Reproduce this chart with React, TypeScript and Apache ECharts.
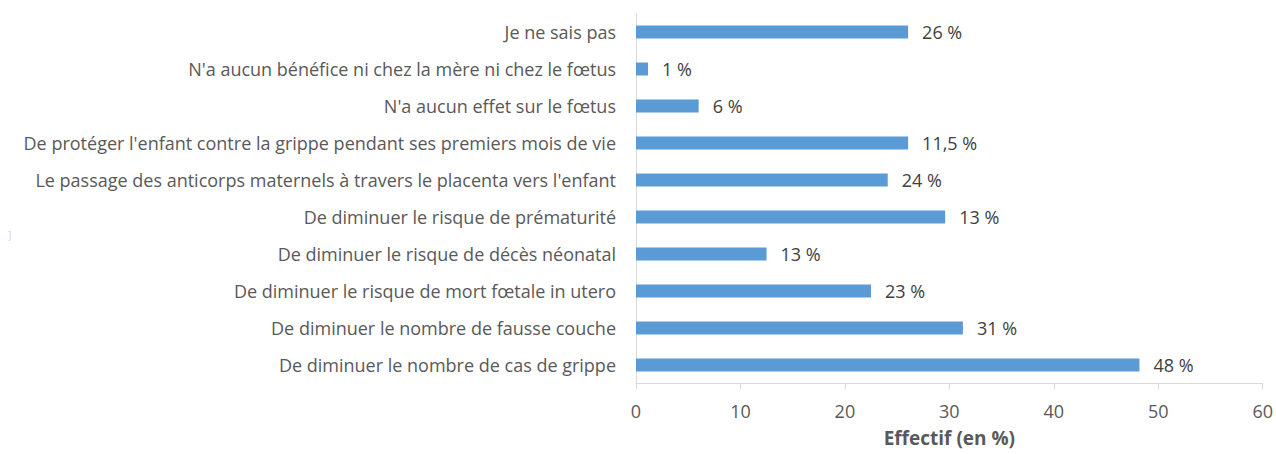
import React, { useEffect, useRef } from "react";
import * as echarts from "echarts";

const categories = [
  "Je ne sais pas",
  "N'a aucun bénéfice ni chez la mère ni chez le fœtus",
  "N'a aucun effet sur le fœtus",
  "De protéger l'enfant contre la grippe pendant ses premiers mois de vie",
  "Le passage des anticorps maternels à travers le placenta vers l'enfant",
  "De diminuer le risque de prématurité",
  "De diminuer le risque de décès néonatal",
  "De diminuer le risque de mort fœtale in utero",
  "De diminuer le nombre de fausse couche",
  "De diminuer le nombre de cas de grippe",
];
const values = [26.05, 1.15, 6, 26.05, 24.1, 29.6, 12.5, 22.5, 31.3, 48.2];
const valueLabels = ["26 %", "1 %", "6 %", "11,5 %", "24 %", "13 %", "13 %", "23 %", "31 %", "48 %"];
const xTicks = { min: 0, max: 60, interval: 10 };
const axisTitle = "Effectif (en %)";

const FONT = "Open Sans";
const FS = 18;

export default function App() {
  const ref = useRef<HTMLDivElement>(null);
  useEffect(() => {
    document.body.style.margin = "0";
    const chart = echarts.init(ref.current!, undefined, { renderer: "svg" });
    chart.setOption({
      animation: false,
      backgroundColor: "#ffffff",
      grid: { left: 636, width: 627, top: 13.5, height: 370, containLabel: false },
      xAxis: {
        type: "value",
        min: xTicks.min,
        max: xTicks.max,
        interval: xTicks.interval,
        name: axisTitle,
        nameLocation: "middle",
        nameGap: 45,
        nameTextStyle: { fontFamily: FONT, fontSize: 19, fontWeight: "bold", color: "#595959" },
        axisLine: { show: true, lineStyle: { color: "#d9d9d9", width: 1 } },
        axisTick: { show: true, length: 6, lineStyle: { color: "#d9d9d9" } },
        axisLabel: { fontFamily: FONT, fontSize: FS, color: "#595959", margin: 18 },
        splitLine: { show: false },
      },
      yAxis: {
        type: "category",
        data: categories,
        inverse: true,
        axisLine: { show: true, lineStyle: { color: "#d9d9d9", width: 1 } },
        axisTick: { show: false },
        axisLabel: { fontFamily: FONT, fontSize: FS, color: "#595959", margin: 20 },
      },
      graphic: [
        {
          type: "text",
          left: 8,
          top: 230,
          style: { text: "]", fontSize: 10, fill: "#d0d0d0", fontFamily: FONT },
        },
      ],
      series: [
        {
          type: "bar",
          data: values,
          barWidth: 13,
          itemStyle: { color: "#5b9bd5" },
          label: {
            show: true,
            position: "right",
            distance: 14,
            fontFamily: FONT,
            fontSize: FS,
            color: "#404040",
            formatter: (p: any) => valueLabels[p.dataIndex],
          },
        },
      ],
    });
    return () => chart.dispose();
  }, []);
  return <div ref={ref} style={{ position: "absolute", left: 0, top: 0, width: 1276, height: 454 }} />;
}
